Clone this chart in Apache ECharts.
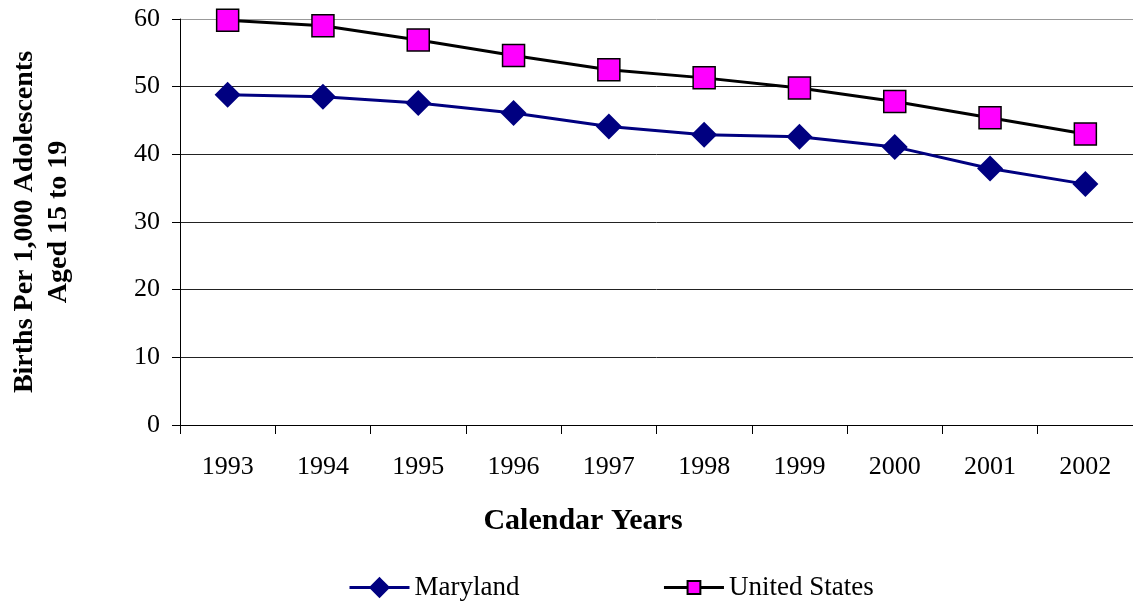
<!DOCTYPE html>
<html>
<head>
<meta charset="utf-8">
<script src="https://cdn.jsdelivr.net/npm/echarts@6/dist/echarts.min.js"></script>
<style>
  html, body { margin: 0; padding: 0; background: #fff; }
  #chart { width: 1133px; height: 601px; }
</style>
</head>
<body>
<div id="chart"></div>
<script>
const years = ["1993", "1994", "1995", "1996", "1997", "1998", "1999", "2000", "2001", "2002"];
const maryland = [48.8, 48.5, 47.6, 46.1, 44.1, 42.9, 42.6, 41.1, 37.9, 35.6];
const unitedStates = [59.8, 59.0, 56.9, 54.6, 52.5, 51.3, 49.8, 47.8, 45.4, 43.0];

const font = "Liberation Serif, Times New Roman, serif";
const chart = echarts.init(document.getElementById("chart"));

chart.setOption({
  animation: false,
  textStyle: { fontFamily: font, color: "#000" },
  grid: { left: 178, right: 0, top: 19, bottom: 176, containLabel: false },
  title: {
    text: "Calendar Years",
    left: 578,
    textAlign: "center",
    top: 501,
    textStyle: { fontFamily: font, fontSize: 30, fontWeight: "bold", color: "#000" },
  },
  legend: {
    top: 574,
    left: 348,
    padding: 0,
    itemGap: 143,
    itemWidth: 60,
    itemHeight: 16,
    textStyle: { fontFamily: font, fontSize: 27, color: "#000", padding: [0, 0, 0, 0] },
    data: [
      {
        name: "Maryland",
        lineStyle: { width: 3 },
        itemStyle: { borderColor: "#000080", borderWidth: 6 },
      },
      {
        name: "United States",
        lineStyle: { width: 3 },
      },
    ],
  },
  xAxis: {
    type: "category",
    data: years,
    boundaryGap: true,
    axisLine: { lineStyle: { color: "#000", width: 1 } },
    axisTick: { show: true, length: 9, lineStyle: { color: "#000" } },
    axisLabel: { fontFamily: font, fontSize: 26, color: "#000", margin: 29 },
  },
  yAxis: {
    type: "value",
    min: 0,
    max: 60,
    interval: 10,
    name: "Births Per 1,000 Adolescents\nAged 15 to 19",
    nameLocation: "middle",
    nameGap: 104,
    nameTextStyle: { fontFamily: font, fontSize: 28, fontWeight: "bold", color: "#000", lineHeight: 34 },
    axisLine: { show: true, lineStyle: { color: "#000", width: 1 } },
    axisTick: { show: true, length: 8, inside: false, lineStyle: { color: "#000" } },
    axisLabel: { fontFamily: font, fontSize: 26, color: "#000", margin: 20 },
    splitLine: {
      lineStyle: { color: ["#222", "#222", "#222", "#222", "#222", "#222", "#999"], width: 1 },
    },
  },
  series: [
    {
      name: "Maryland",
      type: "line",
      data: maryland,
      symbol: "diamond",
      symbolSize: 26,
      lineStyle: { color: "#000080", width: 3 },
      itemStyle: { color: "#000080" },
      z: 3,
    },
    {
      name: "United States",
      type: "line",
      data: unitedStates,
      symbol: "rect",
      symbolSize: 22,
      lineStyle: { color: "#000", width: 3 },
      itemStyle: { color: "#ff00ff", borderColor: "#000", borderWidth: 1.5 },
      z: 4,
    },
  ],
});
</script>
</body>
</html>
